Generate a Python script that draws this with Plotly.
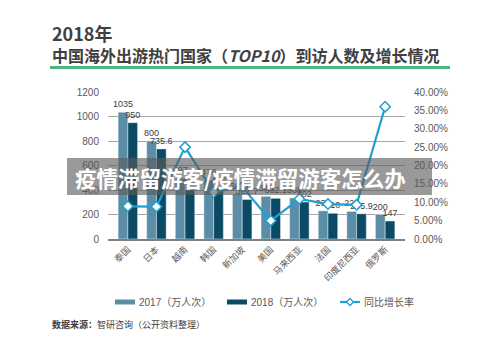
import plotly.graph_objects as go

categories = ["泰国", "日本", "越南", "韩国", "新加坡", "美国", "马来西亚", "法国", "印度尼西亚", "俄罗斯"]
visits_2017 = [1035, 800, 497, 478, 368, 348, 335, 230, 225, 200]
visits_2018 = [950, 735.6, 400, 419, 322.7, 332.1, 302, 210, 205.9, 147]
growth = [0.089, 0.088, 0.25, 0.128, 0.142, 0.05, 0.109, 0.095, 0.093, 0.36]
left_ticks = [0, 200, 400, 600, 800, 1000, 1200]
right_ticks = [0, 0.05, 0.10, 0.15, 0.20, 0.25, 0.30, 0.35, 0.40]
series_names = ["2017（万人次）", "2018（万人次）", "同比增长率"]

W, H = 500, 353
L, R, T, B = 108, 95, 92, 114
pw, ph = W - L - R, H - T - B

def px(x):
    return (x - L) / pw

def py(y):
    return (H - B - y) / ph

C_LIGHT = "#5b8ea6"
C_DARK = "#0b4a64"
C_LINE = "#1ea0d2"

font_family = "Noto Sans CJK SC, Noto Sans, sans-serif"
num_family = "Liberation Sans, Arial, Noto Sans CJK SC, sans-serif"

fig = go.Figure()
fig.add_trace(go.Bar(
    x=categories, y=visits_2017, name=series_names[0],
    marker_color=C_LIGHT, text=[f"{v:g}" for v in visits_2017],
    textposition="outside", textfont=dict(size=9, color="#404040", family=num_family),
    cliponaxis=False,
))
fig.add_trace(go.Bar(
    x=categories, y=visits_2018, name=series_names[1],
    marker_color=C_DARK, text=[f"{v:g}" for v in visits_2018],
    textposition="outside", textfont=dict(size=9, color="#404040", family=num_family),
    cliponaxis=False,
))
fig.add_trace(go.Scatter(
    x=categories, y=growth, name=series_names[2], yaxis="y2",
    mode="lines+markers",
    line=dict(color=C_LINE, width=2.2),
    marker=dict(symbol="diamond", size=8, color="white",
                line=dict(color=C_LINE, width=1.5)),
    cliponaxis=False,
))

fig.update_layout(
    width=W, height=H,
    margin=dict(l=L, r=R, t=T, b=B, pad=0),
    paper_bgcolor="white", plot_bgcolor="white",
    font=dict(family=font_family, color="#595959", size=10),
    barmode="group", bargap=0.32, bargroupgap=0,
    uniformtext=dict(minsize=9, mode="show"),
    showlegend=False,
    xaxis=dict(tickangle=-45, showline=True, linecolor="#7f7f7f", linewidth=1.5,
               ticks="", tickfont=dict(size=9, color="#595959"), showgrid=False),
    yaxis=dict(range=[0, 1200], tickvals=left_ticks, showgrid=True,
               gridcolor="#a6a6a6", gridwidth=1, zeroline=False,
               tickfont=dict(size=10, color="#595959", family=num_family), ticks="",
               ticklabelstandoff=8),
    yaxis2=dict(range=[0, 0.40], tickvals=right_ticks, tickformat=".2%",
                overlaying="y", side="right", showgrid=False, zeroline=False,
                tickfont=dict(size=10, color="#595959", family=num_family), ticks="",
                ticklabelstandoff=8),
)

annotations = [
    dict(text="<b>2018年</b>", x=px(50), y=py(33), xref="paper", yref="paper",
         xanchor="left", yanchor="middle", showarrow=False,
         font=dict(size=18, color="#404040", family=font_family)),
    dict(text="<b>中国海外出游热门国家（<i>TOP10</i>）到访人数及增长情况</b>",
         x=px(50), y=py(55), xref="paper", yref="paper",
         xanchor="left", yanchor="middle", showarrow=False,
         font=dict(size=16, color="#404040", family=font_family)),
    dict(text="<b>数据来源：</b>智研咨询（公开资料整理）", x=px(50), y=py(324),
         xref="paper", yref="paper", xanchor="left", yanchor="middle",
         showarrow=False, font=dict(size=9, color="#404040", family=font_family)),
    dict(text="<b>疫情滞留游客/疫情滞留游客怎么办</b>", x=px(240), y=py(177),
         xref="paper", yref="paper", xanchor="center", yanchor="middle",
         showarrow=False, font=dict(size=21.5, color="white", family=font_family)),
]
# manual legend
leg_y = 302
leg_items = [(115, series_names[0]), (227, series_names[1]), (340, series_names[2])]
for xs, name in leg_items:
    annotations.append(dict(text=name, x=px(xs + 22), y=py(leg_y), xref="paper", yref="paper",
                            xanchor="left", yanchor="middle", showarrow=False,
                            font=dict(size=10, color="#595959", family=num_family)))
fig.update_layout(annotations=annotations)

fig.add_shape(type="rect", xref="paper", yref="paper",
              x0=px(115), x1=px(135), y0=py(leg_y + 2.5), y1=py(leg_y - 2.5),
              fillcolor=C_LIGHT, line=dict(width=0))
fig.add_shape(type="rect", xref="paper", yref="paper",
              x0=px(227), x1=px(247), y0=py(leg_y + 2.5), y1=py(leg_y - 2.5),
              fillcolor=C_DARK, line=dict(width=0))
fig.add_shape(type="line", xref="paper", yref="paper",
              x0=px(340), x1=px(360), y0=py(leg_y), y1=py(leg_y),
              line=dict(color=C_LINE, width=2.2))
fig.add_shape(type="path", xref="paper", yref="paper",
              path=f"M {px(350)},{py(leg_y-3.5)} L {px(353.5)},{py(leg_y)} L {px(350)},{py(leg_y+3.5)} L {px(346.5)},{py(leg_y)} Z",
              fillcolor="white", line=dict(color=C_LINE, width=1.3))

fig.add_shape(type="rect", xref="paper", yref="paper",
              x0=px(67), x1=px(432), y0=py(195), y1=py(158),
              fillcolor="rgba(90,90,90,0.62)", line=dict(width=0), layer="above")
fig.add_shape(type="line", xref="paper", yref="paper",
              x0=px(50), x1=px(450), y0=py(67.5), y1=py(67.5),
              line=dict(color="#4db57a", width=3))

fig.write_html("out.html")
